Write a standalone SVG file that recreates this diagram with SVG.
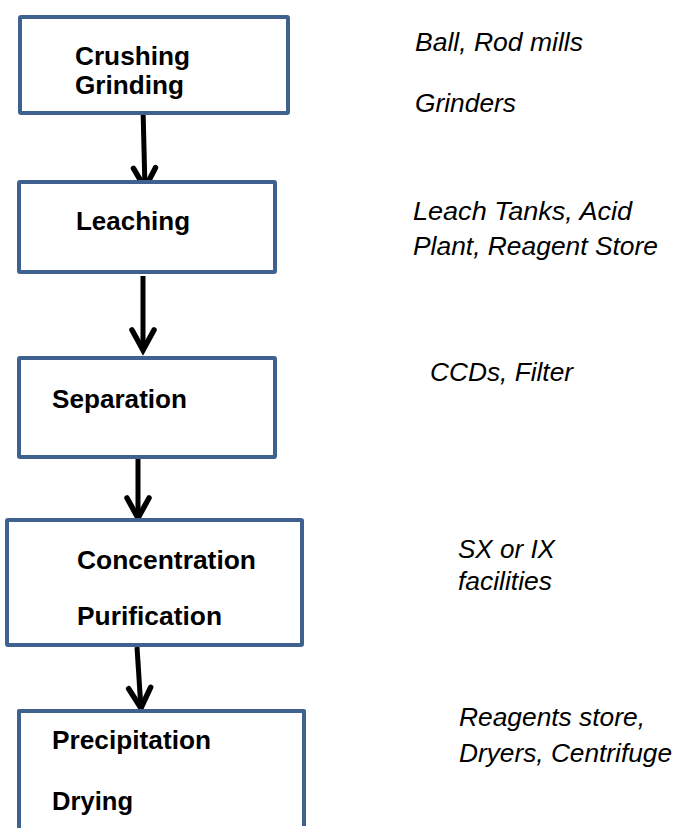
<svg xmlns="http://www.w3.org/2000/svg" width="676" height="828" viewBox="0 0 676 828">
<style>
.box{fill:#ffffff;stroke:#3F6190;stroke-width:4;stroke-linejoin:round}
.lbl{font-family:"Liberation Sans",Arial,sans-serif;font-weight:bold;font-size:26px;fill:#000}
.note{font-family:"Liberation Sans",Arial,sans-serif;font-style:italic;font-size:26px;fill:#000}
.arr{fill:none;stroke:#000;stroke-width:5;marker-end:url(#head)}
</style>
<defs>
<marker id="head" markerUnits="userSpaceOnUse" markerWidth="40" markerHeight="40" viewBox="-25 -20 40 40" refX="0" refY="0" orient="auto" overflow="visible">
<path d="M-21,-11 L-1,0 L-21,11" fill="none" stroke="#000" stroke-width="5.5" stroke-linejoin="miter" stroke-linecap="round"/>
</marker>
</defs>
<rect width="676" height="828" fill="#fff"/>
<g id="connectors">
<path class="arr" d="M143,108 L145,189"/>
<path class="arr" d="M143,276 L143,351"/>
<path class="arr" d="M138,458 L138,519"/>
<path class="arr" d="M137,647 L141,709"/>
</g>
<g id="node-crushing">
<rect class="box" x="20" y="17" width="268" height="96" rx="1"/>
<text class="lbl" x="75" y="65" textLength="115" lengthAdjust="spacingAndGlyphs">Crushing</text>
<text class="lbl" x="75" y="94" textLength="109" lengthAdjust="spacingAndGlyphs">Grinding</text>
</g>
<g id="node-leaching">
<rect class="box" x="19" y="182" width="256" height="90" rx="1"/>
<text class="lbl" x="76" y="230" textLength="114" lengthAdjust="spacingAndGlyphs">Leaching</text>
</g>
<g id="node-separation">
<rect class="box" x="19" y="358" width="256" height="99" rx="1"/>
<text class="lbl" x="52" y="408" textLength="135" lengthAdjust="spacingAndGlyphs">Separation</text>
</g>
<g id="node-concentration">
<rect class="box" x="7" y="520" width="295" height="125" rx="1"/>
<text class="lbl" x="77" y="569" textLength="179" lengthAdjust="spacingAndGlyphs">Concentration</text>
<text class="lbl" x="77" y="625" textLength="145" lengthAdjust="spacingAndGlyphs">Purification</text>
</g>
<g id="node-precipitation">
<path class="box" d="M19,840 L19,711 L304,711 L304,826"/>
<text class="lbl" x="52" y="749" textLength="159" lengthAdjust="spacingAndGlyphs">Precipitation</text>
<text class="lbl" x="52" y="810" textLength="81" lengthAdjust="spacingAndGlyphs">Drying</text>
</g>
<g id="notes">
<text class="note" x="415" y="51" textLength="168" lengthAdjust="spacingAndGlyphs">Ball, Rod mills</text>
<text class="note" x="415" y="112" textLength="101" lengthAdjust="spacingAndGlyphs">Grinders</text>
<text class="note" x="413" y="220" textLength="219" lengthAdjust="spacingAndGlyphs">Leach Tanks, Acid</text>
<text class="note" x="413" y="255" textLength="245" lengthAdjust="spacingAndGlyphs">Plant, Reagent Store</text>
<text class="note" x="430" y="381" textLength="143" lengthAdjust="spacingAndGlyphs">CCDs, Filter</text>
<text class="note" x="458" y="558" textLength="97" lengthAdjust="spacingAndGlyphs">SX or IX</text>
<text class="note" x="458" y="590" textLength="94" lengthAdjust="spacingAndGlyphs">facilities</text>
<text class="note" x="459" y="726" textLength="186" lengthAdjust="spacingAndGlyphs">Reagents store,</text>
<text class="note" x="459" y="762" textLength="213" lengthAdjust="spacingAndGlyphs">Dryers, Centrifuge</text>
</g>
</svg>
